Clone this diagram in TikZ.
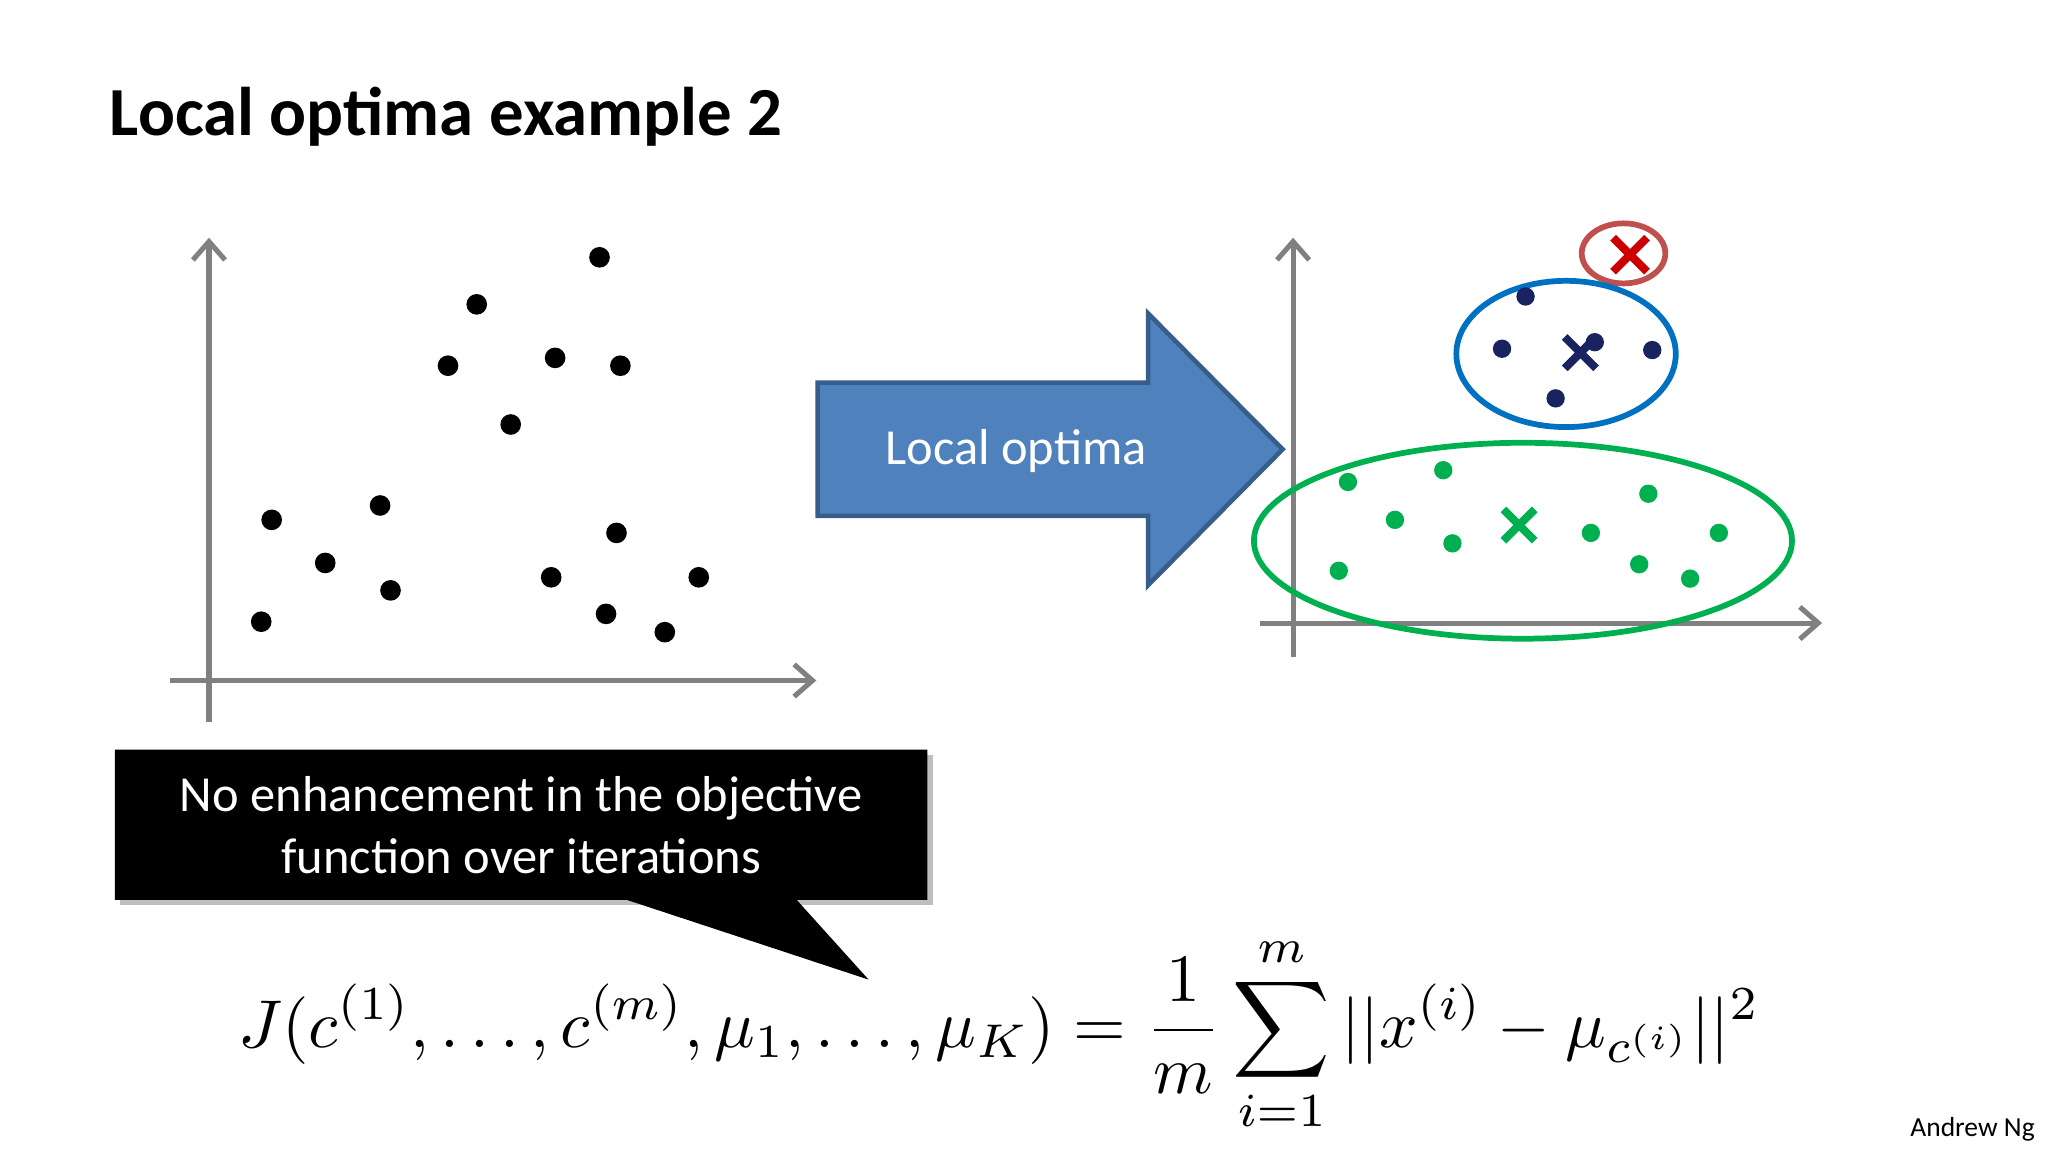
\documentclass[tikz,border=0pt]{standalone}
\usepackage{fontspec}
\setmainfont{Carlito}
\usepackage{amsmath}
\usetikzlibrary{arrows.meta, positioning}
\definecolor{axisgray}{RGB}{128,128,128}
\definecolor{arrowblue}{RGB}{79,129,189}
\definecolor{arrowedge}{RGB}{56,93,138}
\definecolor{navy}{RGB}{25,35,95}
\definecolor{clgreen}{RGB}{0,176,80}
\definecolor{ringblue}{RGB}{0,112,192}
\definecolor{ringred}{RGB}{192,80,77}
\tikzset{
  axis/.style={axisgray, line width=2.2pt, -{Straight Barb[length=8pt,width=14pt]}},
  pt/.style={circle, fill=black, inner sep=0pt, minimum size=9pt},
  gpt/.style={circle, fill=clgreen, inner sep=0pt, minimum size=8pt},
  npt/.style={circle, fill=navy, inner sep=0pt, minimum size=8pt},
}
\begin{document}
\begin{tikzpicture}[x=0.02cm, y=-0.02cm]
          \useasboundingbox (0,0) rectangle (1568,882);
          \node[anchor=west, font=\fontsize{30}{36}\selectfont\bfseries] (title) at (78,89) {Local optima example 2};
          % left plot
          \draw[axis] (160,553) -- (160,182);
          \draw[axis] (130,521) -- (625,521);
          \foreach \x/\y in {459/197, 365/233, 343/280, 425/274, 475/280, 391/325, 208/398, 291/387,
                             249/431, 299/452, 200/476, 472/408, 422/442, 464/470, 535/442, 509/484}
            \node[pt] at (\x,\y) {};
          % big arrow
          \draw[fill=arrowblue, draw=arrowedge, line width=2pt, line join=miter]
            (626,293) -- (879,293) -- (879,240) -- (982,344) -- (879,448) -- (879,395) -- (626,395) -- cycle;
          \node[white, font=\fontsize{22}{26}\selectfont] (lbl) at (778,345) {Local optima};
          % right plot
          \draw[axis] (990,503) -- (990,182);
          \draw[axis] (965,477) -- (1395,477);
          \draw[ringred, line width=2.5pt] (1243,194) ellipse [x radius=32, y radius=23];
          \draw[ringblue, line width=2.5pt] (1199,271) ellipse [x radius=84, y radius=56];
          \draw[clgreen, line width=2.5pt] (1166,414) ellipse [x radius=206, y radius=75];
          \foreach \x/\y in {1168/227, 1150/267, 1221/262, 1265/268, 1191/305}
            \node[npt] at (\x,\y) {};
          \foreach \x/\y in {1032/369, 1105/360, 1068/398, 1112/416, 1025/437,
                             1262/378, 1218/408, 1316/408, 1255/432, 1294/443}
            \node[gpt] at (\x,\y) {};
          \draw[red!80!black, line width=3.5pt] (1235,182) -- (1261,208) (1261,182) -- (1235,208);
          \draw[navy, line width=3.5pt] (1198,258) -- (1222,282) (1222,258) -- (1198,282);
          \draw[clgreen, line width=3.5pt] (1151,390) -- (1175,414) (1175,390) -- (1151,414);
          % callout
          \fill[black!25] (92,578) rectangle (714,693);
          \fill[black] (88,574) -- (710,574) -- (710,689) -- (610,689) -- (665,750) -- (480,689) -- (88,689) -- cycle;
          \node[white, align=center, font=\fontsize{22}{27}\selectfont] (note) at (399,632)
            {No enhancement in the objective\\function over iterations};
          % cost function
          \node[scale=2.95] (cost) at (765,792)
            {$\displaystyle J(c^{(1)},\dots,c^{(m)},\mu_1,\dots,\mu_K)=\frac{1}{m}\sum_{i=1}^{m}||x^{(i)}-\mu_{c^{(i)}}||^2$};
          \node[anchor=south east, font=\fontsize{12}{14}\selectfont] (author) at (1564,880) {Andrew Ng};
        \end{tikzpicture}
\end{document}
